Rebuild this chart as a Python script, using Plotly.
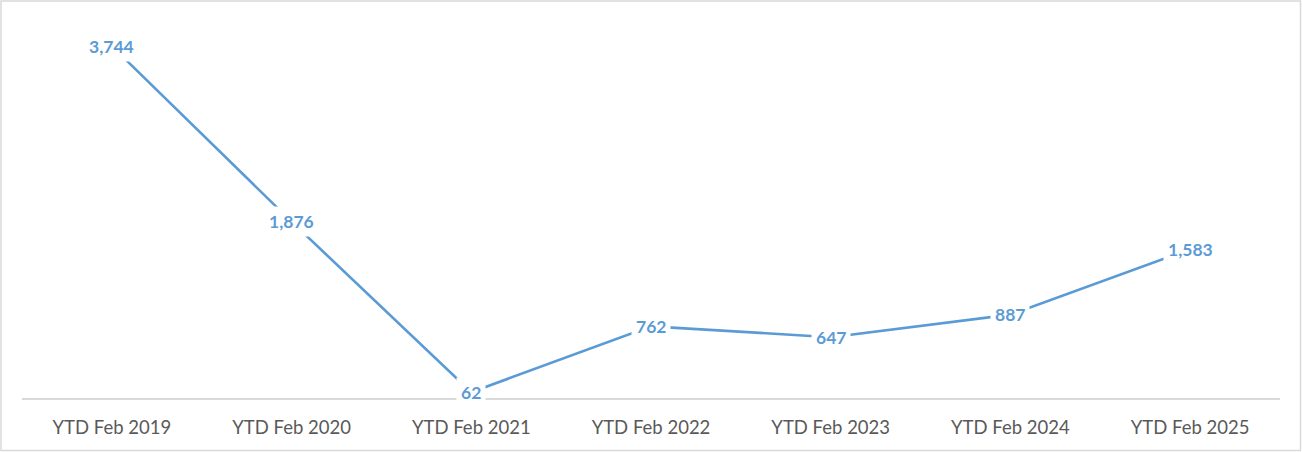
import plotly.graph_objects as go

periods = ["YTD Feb 2019", "YTD Feb 2020", "YTD Feb 2021", "YTD Feb 2022",
           "YTD Feb 2023", "YTD Feb 2024", "YTD Feb 2025"]
values = [3744, 1876, 62, 762, 647, 887, 1583]

line_color = "#5B9BD5"
W, H = 1302, 452
ml, mr, mt, mb = 22, 22, 22, 54
font_family = "Lato, Calibri, sans-serif"

fig = go.Figure()
fig.add_trace(go.Scatter(
    x=periods, y=values, mode="lines",
    line=dict(color=line_color, width=2.6),
    hoverinfo="x+y",
))

# data labels with white boxes sitting on top of the line
for p, v in zip(periods, values):
    fig.add_annotation(
        x=p, y=v, text=f"<b>{v:,}</b>", showarrow=False,
        bgcolor="white", borderpad=4,
        font=dict(family=font_family, size=17.5, color=line_color),
    )

fig.update_xaxes(
    showgrid=False, showline=True, linecolor="#D9D9D9", linewidth=1.5,
    ticks="", ticklabelstandoff=12,
    tickfont=dict(family=font_family, size=18.5, color="#595959"),
    range=[-0.5, 6.5], fixedrange=True,
)
fig.update_yaxes(
    range=[0, 4000], showgrid=False, showticklabels=False, zeroline=False,
    showline=False, fixedrange=True,
)

# outer chart border
pw, ph = W - ml - mr, H - mt - mb
fig.add_shape(
    type="rect", xref="paper", yref="paper",
    x0=-(ml - 1) / pw, x1=1 + (mr - 1.5) / pw,
    y0=-(mb - 1.5) / ph, y1=1 + (mt - 1) / ph,
    line=dict(color="#D9D9D9", width=1.5), layer="below",
)

fig.update_layout(
    width=W, height=H,
    margin=dict(l=ml, r=mr, t=mt, b=mb),
    paper_bgcolor="white", plot_bgcolor="white",
    showlegend=False,
)

fig.write_html("out.html", config={"displayModeBar": False},
               post_script="document.body.style.margin='0';")
